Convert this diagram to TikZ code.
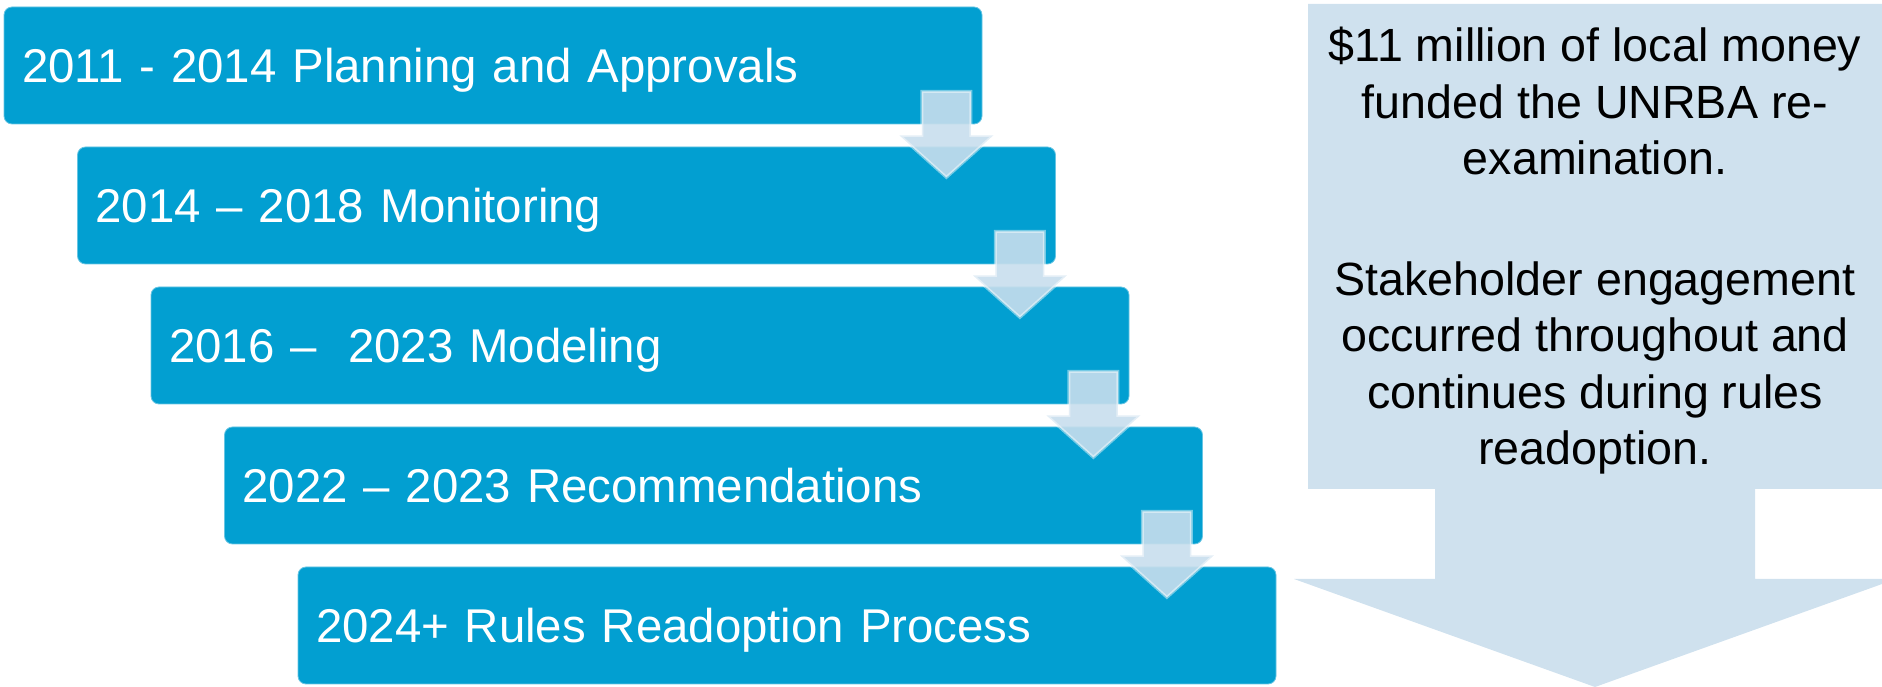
\documentclass[tikz,border=0pt]{standalone}
\usepackage{fontspec}
\setmainfont{Liberation Sans}
\definecolor{boxblue}{RGB}{2,159,209}
\definecolor{paleblue}{RGB}{207,225,238}
\definecolor{stepblue}{RGB}{200,222,237}
\tikzset{
  phase/.style={rectangle,rounded corners=4bp,fill=boxblue,draw=boxblue!60!white,line width=0.4bp,
    text=white,text width=471bp,inner xsep=9bp,inner ysep=0bp,minimum height=58.5bp,align=left,
    text depth=0bp,font=\fontsize{23.7bp}{28bp}\selectfont},
  steparrow/.style={fill=stepblue,fill opacity=0.9,draw=white,draw opacity=0.45,line width=1.5bp,line join=miter},
  bigarrow/.style={fill=paleblue,draw=none},
  note/.style={align=center,inner sep=0bp,text=black,font=\fontsize{23.3bp}{28.25bp}\selectfont}
}
\begin{document}
\begin{tikzpicture}[line join=bevel]
\useasboundingbox (0bp,0bp) rectangle (941bp,343.5bp);
%%
\draw [bigarrow] (654bp,341.5bp) -- (950bp,341.5bp) -- (950bp,99bp) -- (877.5bp,99bp) -- (877.5bp,54bp)
  -- (948bp,54bp) -- (797.5bp,0bp) -- (647bp,54bp) -- (717.5bp,54bp) -- (717.5bp,99bp) -- (654bp,99bp) -- cycle;
\node (node_note) at (797.5bp,218bp) [note] {\$11 million of local money\\funded the UNRBA re-\\examination.\\[32bp]
  Stakeholder engagement\\occurred throughout and\\continues during rules\\readoption.};
%
\node (node_0) at (246.5bp,310.75bp) [phase] {2011 - 2014 Planning and Approvals};
  \node (node_1) at (283.25bp,240.75bp) [phase] {2014 – 2018 Monitoring};
  \node (node_2) at (320.0bp,170.75bp) [phase] {2016 –\ \ 2023 Modeling};
  \node (node_3) at (356.75bp,100.75bp) [phase] {2022 – 2023 Recommendations};
  \node (node_4) at (393.5bp,30.75bp) [phase] {2024+ Rules Readoption Process};
\foreach \i in {0,...,3} {
  \draw [steparrow] ([shift={(-30.25bp,16.5bp)}]node_\i.south east) -- ++(24.5bp,0bp) -- ++(0bp,-22bp)
    -- ++(11.25bp,0bp) -- ++(-23.5bp,-21bp) -- ++(-23.5bp,21bp) -- ++(11.25bp,0bp) -- cycle;
}
%
\end{tikzpicture}
\end{document}
